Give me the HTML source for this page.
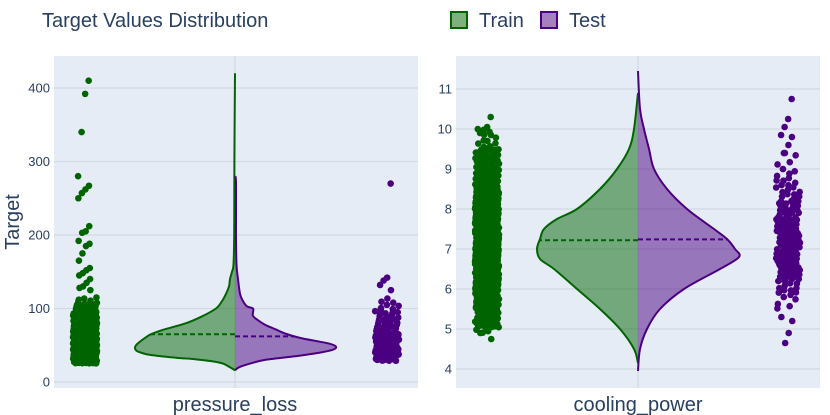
<!DOCTYPE html>
<html><head><meta charset="utf-8"><style>
body{margin:0;background:#fff;}
svg{display:block;font-family:"Liberation Sans",Arial,sans-serif;}
</style></head><body>
<svg id="c" width="830" height="415" viewBox="0 0 830 415"></svg>
<script>
// ---------- data ----------
const panels = ["pressure_loss","cooling_power"];
const leftTicks = [0,100,200,300,400];
const rightTicks = [4,5,6,7,8,9,10,11];
// violin half-width profiles [value, width]
const plTrainViolin = [[16,0],[20,5],[25,12],[28,22],[31,40],[33,59],[36,80],[38,89],[42,98],[46,100],[50,99],[55,95],[60,90],[65,84],[71,72],[80,49],[90,32],[100,19],[110,13],[120,9],[130,6],[140,5],[150,3],[160,1.5],[200,0.8],[300,0.6],[420,0]];
const plTestViolin = [[16,0],[20,4],[25,15],[30,30],[35,60],[40,85],[44,98],[48,101],[52,95],[56,80],[60,65],[66,50],[72,40],[78,30],[85,22],[90,18],[95,18],[100,18],[103,12],[110,8],[120,5],[140,3],[160,1.5],[200,1],[270,1],[280,0]];
const cpTrainViolin = [[4.15,0],[4.5,4],[5,18],[5.5,38],[6,61],[6.5,84],[6.75,98],[7,101],[7.25,98],[7.5,94],[7.75,81],[8,61],[8.5,38],[9,21],[9.5,9],[10,4],[10.9,0]];
const cpTestViolin = [[3.95,0],[4.5,2],[5,9],[5.5,22],[6,46],[6.5,82],[6.8,101],[7,97],[7.25,89],[7.5,76],[8,49],[8.5,29],[9,16],[9.5,11],[10,6],[10.5,2],[11.45,0]];
const medians = [65,62,7.22,7.24];
// strip points: outliers + dense bins [value,count]
const plTrainOut = [410,392,340,280,267,262,257,250,212,205,203,192,188,185,175,165,155,152,148,145,140,135,130,128,125];
const plTrainBins = [[30,70],[40,90],[50,90],[60,85],[70,75],[80,60],[90,40],[100,20],[110,8]];
const plTestOut = [270,142,138,132,125];
const plTestBins = [[32,22],[40,30],[50,30],[60,24],[70,16],[80,12],[90,10],[100,6],[110,3]];
const cpTrainOut = [10.3,10.05,9.98,9.9,9.85,9.7,9.55,4.9,4.75];
const cpTrainBins = [[5.0,6],[5.25,40],[5.75,70],[6.25,110],[6.75,140],[7.25,140],[7.75,120],[8.25,100],[8.75,70],[9.25,35],[9.75,8]];
const cpTestOut = [10.75,10.25,10.05,9.85,9.8,9.6,9.4,5.3,5.2,4.9,4.65];
const cpTestBins = [[5.6,5],[6.0,12],[6.4,22],[6.8,28],[7.2,26],[7.6,24],[8.0,18],[8.4,12],[8.8,8],[9.2,4]];

const G="#006400", P="#4b0082";
const svg=document.getElementById('c');
const NS="http://www.w3.org/2000/svg";
function mk(tag,attrs,parent){const e=document.createElementNS(NS,tag);for(const k in attrs)e.setAttribute(k,attrs[k]);(parent||svg).appendChild(e);return e;}

const yL = v => 382 - v*0.735;
const yR = v => 369 - (v-4)*40;

function smooth(pts){let d="M"+pts[0][0]+","+pts[0][1];
 for(let i=0;i<pts.length-1;i++){const p0=pts[i-1]||pts[i],p1=pts[i],p2=pts[i+1],p3=pts[i+2]||p2;
  const c1=[p1[0]+(p2[0]-p0[0])/6,p1[1]+(p2[1]-p0[1])/6],c2=[p2[0]-(p3[0]-p1[0])/6,p2[1]-(p3[1]-p1[1])/6];
  d+=" C"+c1[0].toFixed(1)+","+c1[1].toFixed(1)+" "+c2[0].toFixed(1)+","+c2[1].toFixed(1)+" "+p2[0].toFixed(1)+","+p2[1].toFixed(1);}
 return d;}
function widthAt(prof,v){for(let i=0;i<prof.length-1;i++){if(v>=prof[i][0]&&v<=prof[i+1][0]){const t=(v-prof[i][0])/(prof[i+1][0]-prof[i][0]);return prof[i][1]+t*(prof[i+1][1]-prof[i][1]);}}return 0;}

function panel(x0,x1,ys,ticks,cx,label,prof1,prof2,med1,med2,out1,bins1,out2,bins2,px1,px2,bw,name){
 const g=mk('g',{});
 
 
 const bg=mk('rect',{x:x0,y:56,width:x1-x0,height:332,fill:'#e5ecf6'},g);
 
 
 ticks.forEach(t=>{const y=ys(t);
  const l=mk('line',{x1:x0,x2:x1,y1:y,y2:y,stroke:'#d3d9e3','stroke-width':1.3},g);
  
  
  const tx=mk('text',{x:x0-4,y:y+4.5,'text-anchor':'end','font-size':13,fill:'#2a3f5f'},g);tx.textContent=t;
  
  });
 const vl=mk('line',{x1:cx,x2:cx,y1:56,y2:388,stroke:'#d3d9e3','stroke-width':1.3},g);
 
 
 [[prof1,-1,G,'rgba(0,100,0,0.5)',med1,'train'],[prof2,1,P,'rgba(75,0,130,0.5)',med2,'test']].forEach(([prof,s,col,fill,med,nm])=>{
  const pts=prof.map(p=>[cx+s*p[1]*bw,ys(p[0])]);
  const d=smooth(pts);
  const f=mk('path',{d:d+" L"+cx+","+ys(prof[0][0])+" Z",fill:fill,stroke:'none'},g);
  
  
  const o=mk('path',{d:d,fill:'none',stroke:col,'stroke-width':2},g);
  
  
  const w=widthAt(prof,med)*bw;
  const m=mk('line',{x1:cx,x2:cx+s*w,y1:ys(med),y2:ys(med),stroke:col,'stroke-width':2,'stroke-dasharray':'5,3'},g);
  
  
 });
 [[out1,bins1,px1,G,'train'],[out2,bins2,px2,P,'test']].forEach(([out,bins,px,col,nm])=>{
  let k=0;
  const jit=()=>{k++;return ((k*0.7548777)%1)*24-12;};
  out.forEach(v=>{const c=mk('circle',{cx:px+jit()*0.6,cy:ys(v),r:3.3,fill:col},g);
   
   });
  bins.forEach(([v,n],bi)=>{const step=(bi<bins.length-1?bins[bi+1][0]-v:bins[bi][0]-bins[bi-1][0]);
   for(let i=0;i<n;i++){const fr=((i+0.5)*0.5698403)%1;
    const c=mk('circle',{cx:px+jit(),cy:ys(v+step*(fr-0.5)),r:3.3,fill:col},g);
    
    }});
 });
 const xl=mk('text',{x:cx,y:411,'text-anchor':'middle','font-size':20,fill:'#2a3f5f'},g);xl.textContent=label;
 
 
}
panel(54,418,yL,leftTicks,235,panels[0],plTrainViolin,plTestViolin,medians[0],medians[1],plTrainOut,plTrainBins,plTestOut,plTestBins,85,387,1,'pressure-loss');
panel(456,820,yR,rightTicks,638,panels[1],cpTrainViolin,cpTestViolin,medians[2],medians[3],cpTrainOut,cpTrainBins,cpTestOut,cpTestBins,487,788,1,'cooling-power');

const t=mk('text',{x:42,y:27,'font-size':20,fill:'#2a3f5f'});t.textContent="Target Values Distribution";


const yt=mk('text',{x:0,y:0,'font-size':20,fill:'#2a3f5f','text-anchor':'middle',transform:'translate(19,222) rotate(-90)'});yt.textContent="Target";


[[451,'Train',G,'rgba(0,100,0,0.5)'],[541,'Test',P,'rgba(75,0,130,0.5)']].forEach(([x,l,c,f])=>{
 const g=mk('g',{});
 
 
 mk('rect',{x:x,y:12,width:16,height:16,fill:'#fff'},g);
 mk('rect',{x:x,y:12,width:16,height:16,fill:f,stroke:c,'stroke-width':2},g);
 const tx=mk('text',{x:x+28,y:27,'font-size':20,fill:'#2a3f5f'},g);tx.textContent=l;
});
</script>
</body></html>
